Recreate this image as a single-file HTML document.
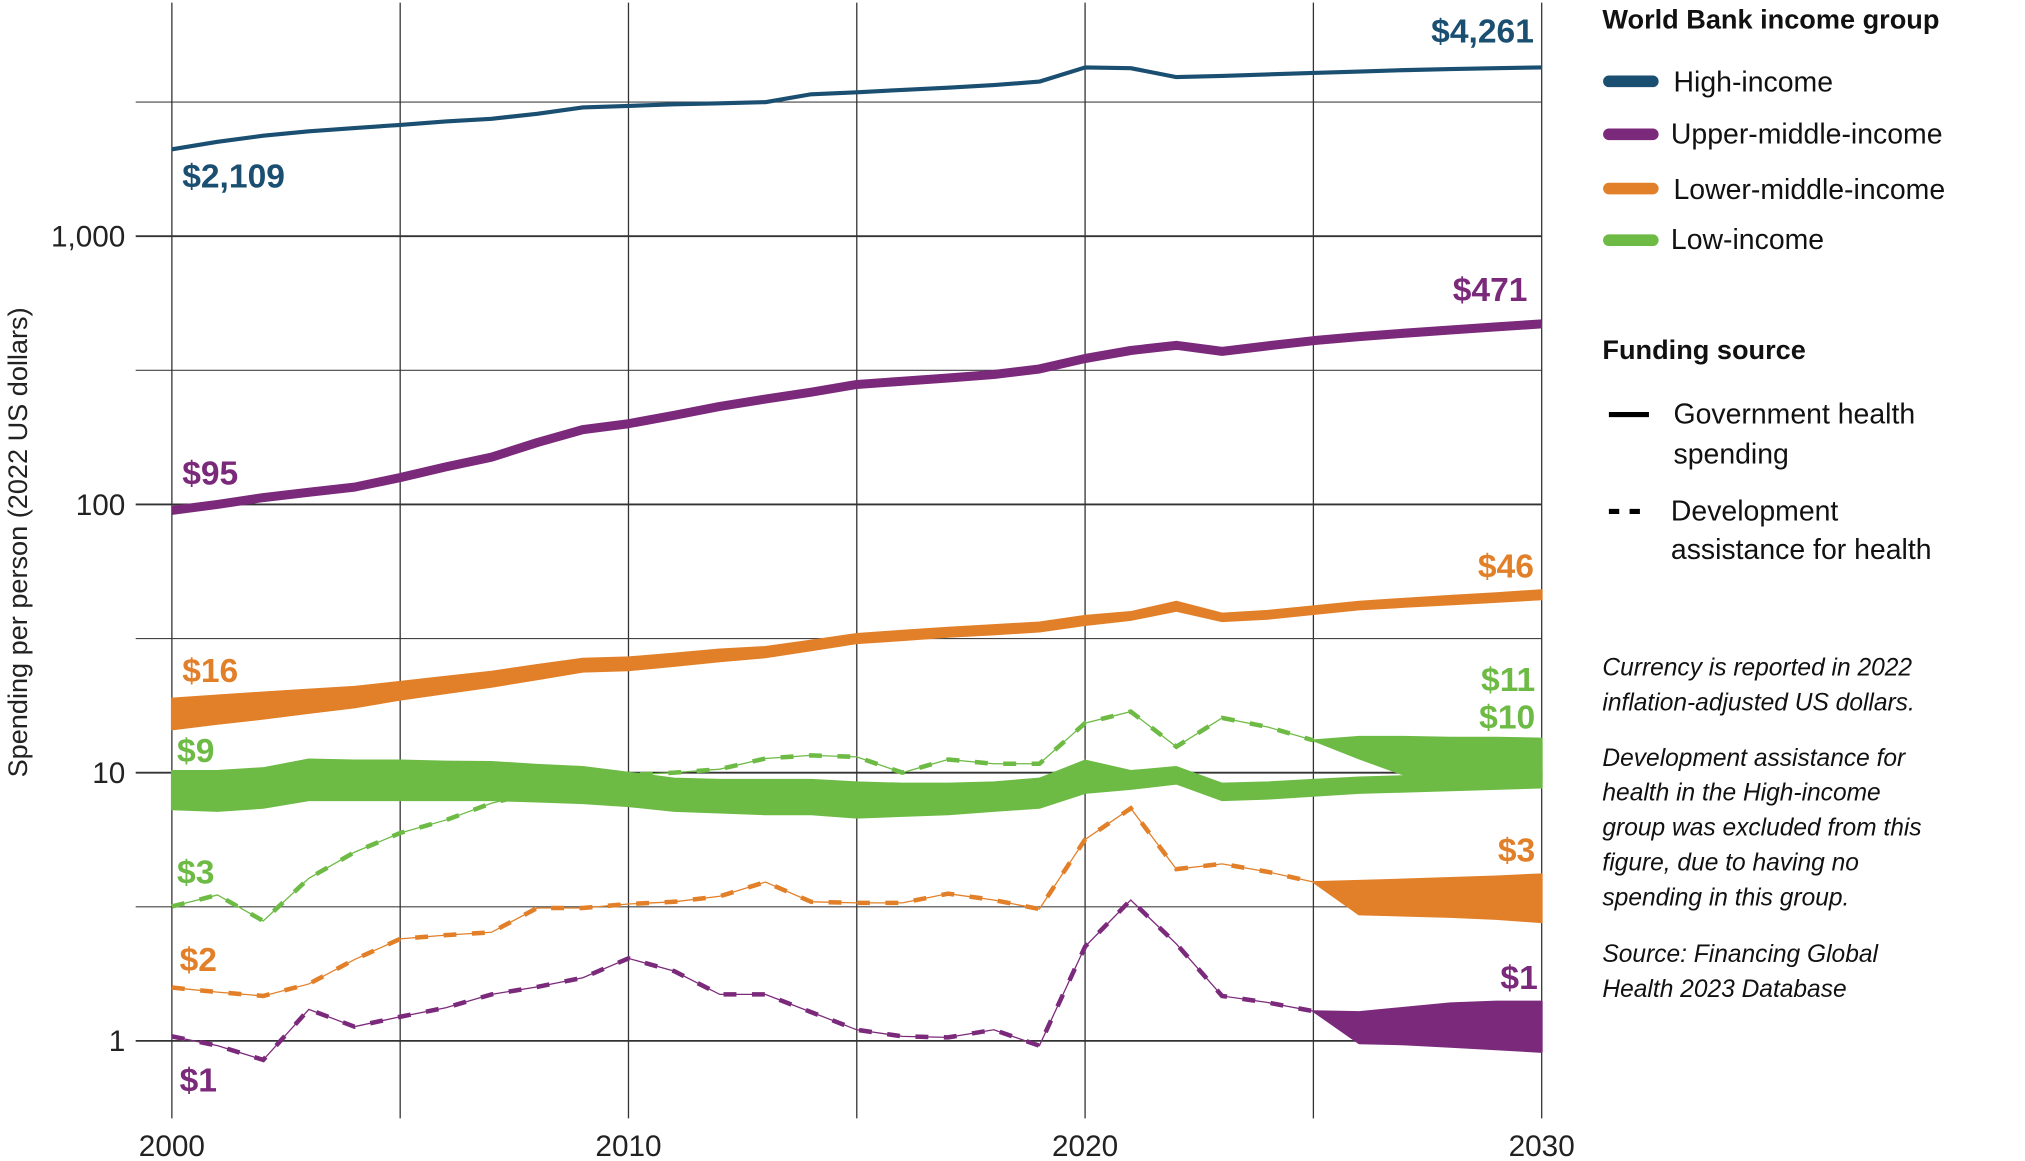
<!DOCTYPE html>
<html><head><meta charset="utf-8"><style>
html,body{margin:0;padding:0;background:#fff;}
svg{display:block;}
text{font-family:"Liberation Sans",sans-serif;}
.n{font-family:"Liberation Sans Narrow","Liberation Sans",sans-serif;}
</style></head><body>
<svg id="chart" width="2025" height="1161" viewBox="0 0 1567 899" preserveAspectRatio="none" xmlns="http://www.w3.org/2000/svg">
<g id="grid"></g>
<g id="marks"></g>
<g id="axes"></g>
<text transform="translate(21,420) rotate(-90)" text-anchor="middle" font-size="21" fill="#222">Spending per person (2022 US dollars)</text>
<g font-weight="bold" font-size="26">
<text x="141" y="145" fill="#1a4f72">$2,109</text>
<text x="1187" y="33" text-anchor="end" fill="#1a4f72">$4,261</text>
<text x="1182" y="233" text-anchor="end" fill="#7b2a7b">$471</text>
<text x="141" y="375" fill="#7b2a7b">$95</text>
<text x="1187" y="447" text-anchor="end" fill="#e2802a">$46</text>
<text x="141" y="528" fill="#e2802a">$16</text>
<text x="1188" y="535" text-anchor="end" fill="#6dbb45">$11</text>
<text x="1188" y="564" text-anchor="end" fill="#6dbb45">$10</text>
<text x="137" y="590" fill="#6dbb45">$9</text>
<text x="137" y="684" fill="#6dbb45">$3</text>
<text x="1188" y="667" text-anchor="end" fill="#e2802a">$3</text>
<text x="139" y="752" fill="#e2802a">$2</text>
<text x="1190" y="766" text-anchor="end" fill="#7b2a7b">$1</text>
<text x="139" y="845" fill="#7b2a7b">$1</text>
</g>
<g font-size="22" fill="#111">
<text x="1240" y="22" font-weight="bold" font-size="21">World Bank income group</text>
<line x1="1245" y1="63" x2="1279" y2="63" stroke="#1a4f72" stroke-width="9" stroke-linecap="round"/>
<text x="1295" y="71">High-income</text>
<line x1="1245" y1="104" x2="1279" y2="104" stroke="#7b2a7b" stroke-width="9" stroke-linecap="round"/>
<text x="1293" y="111">Upper-middle-income</text>
<line x1="1245" y1="146" x2="1279" y2="146" stroke="#e2802a" stroke-width="9" stroke-linecap="round"/>
<text x="1295" y="154">Lower-middle-income</text>
<line x1="1245" y1="186" x2="1279" y2="186" stroke="#6dbb45" stroke-width="9" stroke-linecap="round"/>
<text x="1293" y="193">Low-income</text>
<text x="1240" y="278" font-weight="bold" font-size="21">Funding source</text>
<line x1="1245" y1="321" x2="1276" y2="321" stroke="#000" stroke-width="4"/>
<text x="1295" y="328">Government health</text>
<text x="1295" y="359">spending</text>
<line x1="1245" y1="396" x2="1276" y2="396" stroke="#000" stroke-width="4" stroke-dasharray="8 8"/>
<text x="1293" y="403">Development</text>
<text x="1293" y="433">assistance for health</text>
</g>
<g font-size="19" font-style="italic" fill="#111">
<text x="1240" y="523">Currency is reported in 2022</text>
<text x="1240" y="550">inflation-adjusted US dollars.</text>
<text x="1240" y="593">Development assistance for</text>
<text x="1240" y="620">health in the High-income</text>
<text x="1240" y="647">group was excluded from this</text>
<text x="1240" y="674">figure, due to having no</text>
<text x="1240" y="701">spending in this group.</text>
<text x="1240" y="745">Source: Financing Global</text>
<text x="1240" y="772">Health 2023 Database</text>
</g>
</svg>
<script>
const years = [2000,2001,2002,2003,2004,2005,2006,2007,2008,2009,2010,2011,2012,2013,2014,2015,2016,2017,2018,2019,2020,2021,2022,2023,2024,2025,2026,2027,2028,2029,2030];
const yTicks = [1,10,100,1000];
const yTickLabels = ["1","10","100","1,000"];
const yMinor = [3.162,31.62,316.2,3162];
const xTicks = [2000,2010,2020,2030];
const xGrid = [2000,2005,2010,2015,2020,2025,2030];
const highGov = [2109,2250,2370,2460,2530,2600,2680,2740,2860,3020,3060,3100,3130,3160,3380,3440,3510,3580,3660,3770,4260,4230,3920,3960,4010,4060,4110,4160,4200,4230,4261];
const umGov = [95,100,106,111,116,126,138,150,170,190,200,215,232,247,262,280,288,296,305,320,350,375,392,372,390,408,422,435,447,459,471];
const lmGovHi = [18.9,19.4,19.9,20.4,20.9,21.8,22.8,23.8,25.2,26.6,26.9,27.8,28.8,29.4,31.1,32.9,33.8,34.7,35.5,36.3,38.4,39.7,43.4,39.2,40.1,41.7,43.4,44.5,45.6,46.7,47.9];
const lmGovLo = [14.5,15.2,15.9,16.7,17.5,18.7,19.8,20.9,22.3,23.8,24.1,25.0,26.0,26.9,28.6,30.4,31.2,32.1,32.8,33.6,35.5,37.1,40.1,36.7,37.5,39.0,40.6,41.5,42.4,43.3,44.3];
const lowGovHi = [10.15,10.15,10.4,11.2,11.1,11.1,11.0,10.96,10.7,10.5,10.0,9.5,9.4,9.4,9.4,9.2,9.1,9.1,9.2,9.5,11.1,10.15,10.5,9.1,9.2,9.4,9.6,9.7,9.9,10.0,10.15];
const lowGovLo = [7.3,7.2,7.4,7.9,7.9,7.9,7.9,7.9,7.8,7.7,7.5,7.2,7.1,7.0,7.0,6.8,6.9,7.0,7.2,7.4,8.4,8.7,9.1,7.9,8.0,8.2,8.4,8.5,8.6,8.7,8.8];
const dahYears = [2000,2001,2002,2003,2004,2005,2006,2007,2008,2009,2010,2011,2012,2013,2014,2015,2016,2017,2018,2019,2020,2021,2022,2023,2024,2025];
const lowDah = [3.17,3.5,2.8,4.04,5.05,5.96,6.66,7.69,8.5,9.1,9.8,10.0,10.3,11.3,11.6,11.45,10.0,11.2,10.8,10.8,15.3,16.9,12.5,16.0,14.8,13.2];
const lmDah = [1.58,1.52,1.47,1.63,2.01,2.40,2.48,2.54,3.13,3.13,3.24,3.3,3.46,3.91,3.3,3.27,3.27,3.54,3.35,3.1,5.64,7.36,4.37,4.57,4.27,3.91];
const umDah = [1.04,0.96,0.85,1.31,1.13,1.23,1.33,1.49,1.59,1.72,2.03,1.82,1.49,1.49,1.28,1.10,1.04,1.03,1.10,0.96,2.25,3.35,2.30,1.47,1.39,1.29];
const projYears = [2025,2026,2027,2028,2029,2030];
const lowDahHi = [13.2,13.6,13.6,13.5,13.5,13.4];
const lowDahLo = [13.2,11.3,9.8,9.7,9.6,9.5];
const lmDahHi = [3.91,3.95,4.0,4.05,4.1,4.18];
const lmDahLo = [3.91,2.96,2.93,2.9,2.85,2.77];
const umDahHi = [1.29,1.28,1.33,1.38,1.40,1.40];
const umDahLo = [1.29,0.98,0.97,0.95,0.93,0.91];

const NS = "http://www.w3.org/2000/svg";
const X0 = 133, X1 = 1193, Y1 = 806, DEC = 207.7;
function xs(yr){ return X0 + (yr-2000)*(X1-X0)/30; }
function ys(v){ return Y1 - DEC*Math.log10(v); }
function mk(tag, parent, attrs){ const e=document.createElementNS(NS,tag); for(const k in attrs) e.setAttribute(k,attrs[k]); parent.appendChild(e); return e; }
const grid=document.getElementById('grid'), marks=document.getElementById('marks'), axes=document.getElementById('axes');

yTicks.forEach((t,i)=>{
  const l=mk('line',grid,{x1:105,x2:X1,y1:ys(t),y2:ys(t),stroke:'#333','stroke-width':1.4});
  
  
  const tx=mk('text',axes,{x:97,y:ys(t)+8,'text-anchor':'end','font-size':23,fill:'#222',class:'n'});
  tx.textContent=yTickLabels[i];
  
  
});
yMinor.forEach(t=>{
  const l=mk('line',grid,{x1:105,x2:X1,y1:ys(t),y2:ys(t),stroke:'#444','stroke-width':0.9});
  
  
});
xGrid.forEach(yr=>{
  const l=mk('line',grid,{x1:xs(yr),x2:xs(yr),y1:2,y2:866,stroke:'#333','stroke-width':1});
  
  
});
xTicks.forEach(yr=>{
  const tx=mk('text',axes,{x:xs(yr),y:895,'text-anchor':'middle','font-size':23,fill:'#222',class:'n'});
  tx.textContent=String(yr);
  
  
});

function pts(xv,vals){ return vals.map((v,i)=>xs(xv[i]).toFixed(1)+','+ys(v).toFixed(1)); }
function band(xv,hi,lo,color,name){
  const p=pts(xv,hi).concat(pts(xv,lo).reverse()).join(' ');
  const e=mk('polygon',marks,{points:p,fill:color,stroke:color,'stroke-width':1.5,'stroke-linejoin':'round'});
  
  
}
function line(xv,vals,color,w,name){
  const e=mk('polyline',marks,{points:pts(xv,vals).join(' '),fill:'none',stroke:color,'stroke-width':w,'stroke-linejoin':'round'});
  
  
}
function dashed(xv,vals,color,name){
  const p=pts(xv,vals).join(' ');
  const a=mk('polyline',marks,{points:p,fill:'none',stroke:color,'stroke-width':1});
  
  
  const b=mk('polyline',marks,{points:p,fill:'none',stroke:color,'stroke-width':3.5,'stroke-dasharray':'10 12'});
  
  
}
const C={high:'#1a4f72',um:'#7b2a7b',lm:'#e2802a',low:'#6dbb45'};
dashed(dahYears,umDah,C.um,'um-dah-line');
band(projYears,umDahHi,umDahLo,C.um,'um-dah-projection');
dashed(dahYears,lmDah,C.lm,'lm-dah-line');
band(projYears,lmDahHi,lmDahLo,C.lm,'lm-dah-projection');
dashed(dahYears,lowDah,C.low,'low-dah-line');
band(projYears,lowDahHi,lowDahLo,C.low,'low-dah-projection');
band(years,lowGovHi,lowGovLo,C.low,'low-gov-band');
band(years,lmGovHi,lmGovLo,C.lm,'lm-gov-band');
line(years,umGov,C.um,7,'um-gov-line');
line(years,highGov,C.high,3.2,'high-gov-line');
</script>
</body></html>
